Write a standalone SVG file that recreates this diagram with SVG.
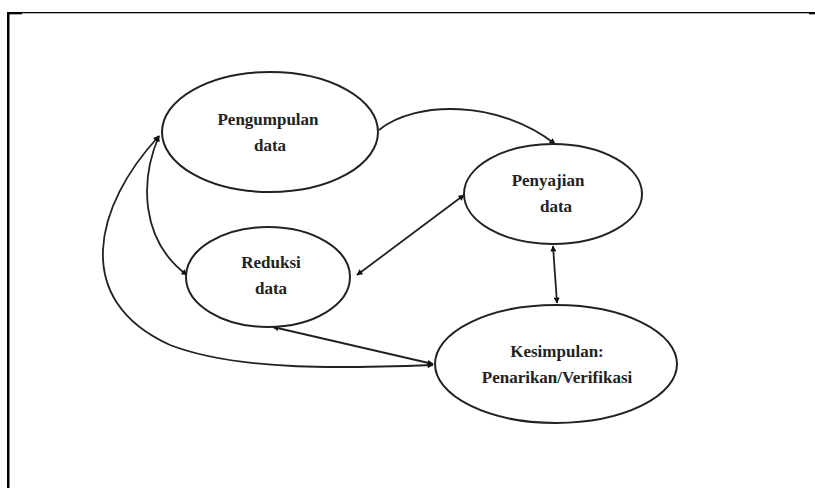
<svg xmlns="http://www.w3.org/2000/svg" width="815" height="488" viewBox="0 0 815 488">
<style>
.node ellipse{fill:#fff;stroke:#222;stroke-width:2}
.node text{font-family:"Liberation Serif","Times New Roman",serif;font-weight:bold;font-size:17px;fill:#222;text-anchor:middle}
.conn path{fill:none;stroke:#222;stroke-width:1.8}
</style>
<defs>
<marker id="ah" viewBox="0 0 10 10" refX="9" refY="5" markerWidth="7" markerHeight="6" markerUnits="userSpaceOnUse" orient="auto-start-reverse">
<path d="M0,0 L10,5 L0,10 Z" fill="#111"/>
</marker>
</defs>
<rect width="815" height="488" fill="#fff"/>
<g id="frame" fill="#000">
<rect x="7" y="12" width="808" height="1.3"/>
<rect x="7" y="12" width="2.5" height="476"/>
<rect x="7" y="12" width="15" height="2.3"/>
<rect x="809" y="12" width="6" height="2.3"/>
</g>
<g class="conn" id="connectors">
<path d="M379,130 C415,100 500,100 555,144" marker-end="url(#ah)"/>
<path d="M464,195 L357,275" marker-start="url(#ah)" marker-end="url(#ah)"/>
<path d="M553,246 L557,303" marker-start="url(#ah)" marker-end="url(#ah)"/>
<path d="M433,364 L273,327" marker-start="url(#ah)" marker-end="url(#ah)"/>
<path d="M159,136 C140,180 140,240 187,275" marker-start="url(#ah)" marker-end="url(#ah)"/>
<path d="M159,136 C95,205 70,300 170,345 C240,372 350,368 433,365" marker-start="url(#ah)" marker-end="url(#ah)"/>
</g>
<g class="node" id="pengumpulan">
<ellipse cx="270" cy="132" rx="108" ry="60"/>
<text x="268" y="125">Pengumpulan</text>
<text x="270" y="151">data</text>
</g>
<g class="node" id="penyajian">
<ellipse cx="553" cy="194" rx="89" ry="50"/>
<text x="548" y="186">Penyajian</text>
<text x="556" y="212">data</text>
</g>
<g class="node" id="reduksi">
<ellipse cx="268" cy="277" rx="82" ry="50"/>
<text x="271" y="268">Reduksi</text>
<text x="271" y="294">data</text>
</g>
<g class="node" id="kesimpulan">
<ellipse cx="556" cy="364" rx="121" ry="59"/>
<text x="557" y="357">Kesimpulan:</text>
<text x="557" y="383">Penarikan/Verifikasi</text>
</g>
</svg>
